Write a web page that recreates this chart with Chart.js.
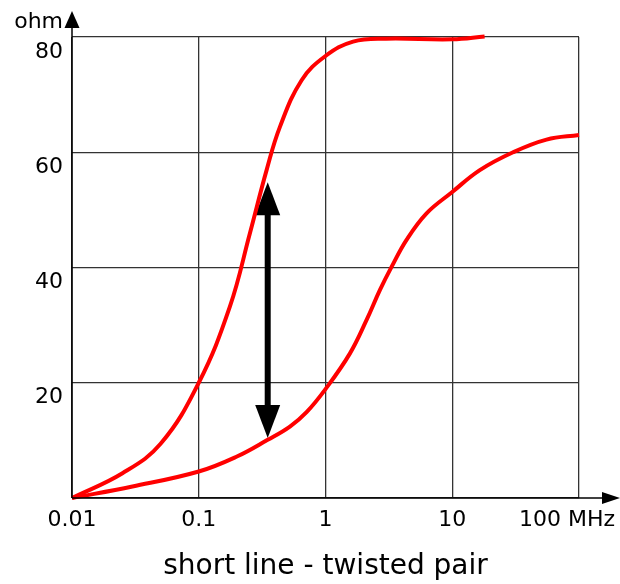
<!DOCTYPE html>
<html>
<head>
<meta charset="utf-8">
<script src="https://cdn.jsdelivr.net/npm/chart.js@4.4.1/dist/chart.umd.min.js"></script>
<style>
html, body { margin: 0; padding: 0; background: #fff; }
</style>
</head>
<body>
<canvas id="impedance" width="620" height="584"></canvas>
<script>
// axis ticks
var freqTicks = [0.01, 0.1, 1, 10, 100];
var freqTickLabels = ['0.01', '0.1', '1', '10', '100 MHz'];
var ohmTicks = [0, 20, 40, 60, 80];

// steep curve (rises to ~80 ohm)
var steepFreq = [0.01, 0.025, 0.05, 0.1, 0.176, 0.253, 0.343, 0.437, 0.648, 1.0, 1.65, 3.0, 10, 18];
var steepOhm  = [0, 4.3, 9.4, 20, 33.2, 45.9, 56.9, 64.4, 72.5, 76.7, 79.2, 79.7, 79.6, 80.1];

// slow curve (rises to ~63 ohm)
var slowFreq = [0.01, 0.03, 0.1, 0.2, 0.35, 0.524, 0.709, 1.0, 1.56, 2.11, 2.69, 3.32, 4.36, 6.27, 10, 16.5, 30.2, 55.4, 100];
var slowOhm  = [0, 2.0, 4.6, 7.2, 10.1, 12.4, 14.9, 18.9, 25.1, 30.9, 36.1, 40.1, 44.8, 49.4, 53.1, 56.9, 60.0, 62.2, 63.0];

// double arrow between the curves
var arrowFreq = 0.35;
var arrowLow = 10.4;
var arrowHigh = 54.8;

var FONT = '"DejaVu Sans", Verdana, sans-serif';

function toPoints(xs, ys) {
    return xs.map(function (x, i) { return {x: x, y: ys[i]}; });
}

function triangle(ctx, x1, y1, x2, y2, x3, y3) {
    ctx.beginPath();
    ctx.moveTo(x1, y1);
    ctx.lineTo(x2, y2);
    ctx.lineTo(x3, y3);
    ctx.closePath();
    ctx.fill();
}

var doubleArrow = {
    id: 'doubleArrow',
    beforeDatasetsDraw: function (chart) {
        var ctx = chart.ctx;
        var x = chart.scales.x.getPixelForValue(arrowFreq);
        var yTop = chart.scales.y.getPixelForValue(arrowHigh);
        var yBot = chart.scales.y.getPixelForValue(arrowLow);
        var headLen = 33, headHalf = 12.5;
        ctx.save();
        ctx.fillStyle = '#000';
        ctx.strokeStyle = '#000';
        ctx.lineWidth = 6;
        ctx.beginPath();
        ctx.moveTo(x, yTop + headLen - 1);
        ctx.lineTo(x, yBot - headLen + 1);
        ctx.stroke();
        triangle(ctx, x, yTop, x - headHalf, yTop + headLen, x + headHalf, yTop + headLen);
        triangle(ctx, x, yBot, x - headHalf, yBot - headLen, x + headHalf, yBot - headLen);
        ctx.restore();
    }
};

var axisDecor = {
    id: 'axisDecor',
    afterDraw: function (chart) {
        var ctx = chart.ctx;
        var area = chart.chartArea;
        var xs = chart.scales.x;
        ctx.save();
        ctx.strokeStyle = '#000';
        ctx.fillStyle = '#000';
        ctx.lineWidth = 1.5;

        // y axis with arrow head
        ctx.beginPath();
        ctx.moveTo(area.left, area.bottom);
        ctx.lineTo(area.left, 27);
        ctx.stroke();
        triangle(ctx, area.left, 11, area.left - 7.5, 28, area.left + 7.5, 28);

        // x axis with arrow head
        ctx.beginPath();
        ctx.moveTo(area.left, area.bottom);
        ctx.lineTo(area.right + 24, area.bottom);
        ctx.stroke();
        triangle(ctx, area.right + 41, area.bottom, area.right + 23, area.bottom - 6, area.right + 23, area.bottom + 6);

        ctx.font = '22px ' + FONT;
        ctx.textAlign = 'right';
        ctx.textBaseline = 'alphabetic';
        ctx.fillText('ohm', area.left - 9, 28);

        // frequency labels; the last one carries the unit so it is pulled left
        ctx.textBaseline = 'middle';
        freqTicks.forEach(function (v, i) {
            var px = xs.getPixelForValue(v);
            if (i === freqTicks.length - 1) {
                ctx.textAlign = 'right';
                ctx.fillText(freqTickLabels[i], px + 36, area.bottom + 22);
            } else {
                ctx.textAlign = 'center';
                ctx.fillText(freqTickLabels[i], px, area.bottom + 22);
            }
        });
        ctx.restore();
    }
};

var lineStyle = {
    borderColor: '#ff0000',
    borderWidth: 4,
    pointRadius: 0,
    fill: false,
    tension: 0.4,
    clip: false
};

new Chart(document.getElementById('impedance'), {
    type: 'line',
    data: {
        datasets: [
            Object.assign({label: 'steep', data: toPoints(steepFreq, steepOhm)}, lineStyle),
            Object.assign({label: 'slow', data: toPoints(slowFreq, slowOhm)}, lineStyle)
        ]
    },
    options: {
        responsive: false,
        animation: false,
        devicePixelRatio: 1,
        layout: { padding: { top: 37, right: 41, left: 0, bottom: 0 } },
        plugins: {
            legend: { display: false },
            tooltip: { enabled: false },
            title: {
                display: true,
                position: 'bottom',
                fullSize: false,
                text: 'short line - twisted pair',
                color: '#000',
                font: { family: FONT, size: 28, weight: 'normal' },
                padding: { top: 4, bottom: 0 }
            }
        },
        scales: {
            x: {
                type: 'logarithmic',
                min: 0.01,
                max: 100,
                afterBuildTicks: function (scale) {
                    scale.ticks = freqTicks.map(function (v) { return {value: v}; });
                },
                afterFit: function (scale) { scale.height = 48.4; },
                ticks: { display: false },
                grid: { color: '#333', lineWidth: 1.3, drawTicks: false },
                border: { display: false }
            },
            y: {
                type: 'linear',
                min: 0,
                max: 80,
                afterBuildTicks: function (scale) {
                    scale.ticks = ohmTicks.map(function (v) { return {value: v}; });
                },
                afterFit: function (scale) { scale.width = 72; },
                ticks: {
                    color: '#000',
                    font: { family: FONT, size: 22 },
                    padding: 9,
                    labelOffset: 15,
                    callback: function (v) { return v === 0 ? '' : String(v); }
                },
                grid: { color: '#333', lineWidth: 1.3, drawTicks: false },
                border: { display: false }
            }
        }
    },
    plugins: [doubleArrow, axisDecor]
});
</script>
</body>
</html>
